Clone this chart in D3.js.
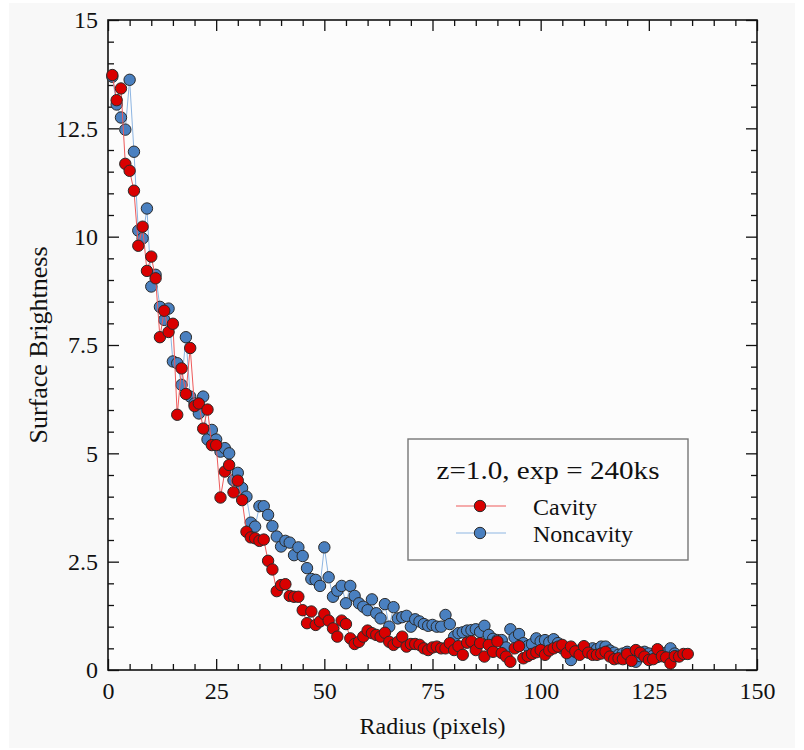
<!DOCTYPE html>
<html><head><meta charset="utf-8">
<script src="https://cdn.jsdelivr.net/npm/d3@7"></script>
<style>html,body{margin:0;padding:0;background:#ffffff;} svg{display:block;}</style>
</head><body>
<svg id="chart" width="804" height="750"></svg>
<script>
// ---- data ----
const xTicks = [0, 25, 50, 75, 100, 125, 150];
const xTickLabels = ["0", "25", "50", "75", "100", "125", "150"];
const yTicks = [0, 2.5, 5, 7.5, 10, 12.5, 15];
const yTickLabels = ["0", "2.5", "5", "7.5", "10", "12.5", "15"];
const radiusStart = 1; // first radius bin (pixels); bins are 1 pixel wide
const cavity = [
  13.73, 13.15, 13.42, 11.68, 11.52, 11.06, 9.79, 10.23, 9.21, 9.54,
  9.04, 7.68, 8.29, 7.80, 7.99, 5.89, 6.96, 6.37, 7.43, 6.09,
  6.15, 5.57, 6.01, 5.19, 5.19, 3.98, 4.58, 4.73, 4.10, 4.37,
  3.92, 3.19, 3.06, 3.04, 2.98, 3.01, 2.52, 2.32, 1.82, 1.96,
  1.98, 1.71, 1.69, 1.69, 1.38, 1.08, 1.35, 1.04, 1.12, 1.29,
  1.14, 0.96, 0.77, 1.14, 1.06, 0.73, 0.60, 0.65, 0.77, 0.91,
  0.85, 0.81, 0.77, 0.86, 0.65, 0.58, 0.65, 0.77, 0.54, 0.60,
  0.60, 0.58, 0.50, 0.46, 0.52, 0.54, 0.50, 0.50, 0.62, 0.46,
  0.55, 0.35, 0.63, 0.66, 0.46, 0.62, 0.31, 0.58, 0.42, 0.66,
  0.39, 0.31, 0.19, 0.50, 0.55, 0.27, 0.32, 0.37, 0.41, 0.46,
  0.35, 0.45, 0.50, 0.54, 0.58, 0.39, 0.54, 0.43, 0.35, 0.55,
  0.40, 0.35, 0.35, 0.38, 0.42, 0.31, 0.25, 0.27, 0.25, 0.37,
  0.21, 0.46, 0.40, 0.31, 0.23, 0.25, 0.48, 0.32, 0.29, 0.15,
  0.32, 0.31, 0.37, 0.37
];
const noncavity = [
  13.69, 13.05, 12.75, 12.47, 13.62, 11.96, 10.14, 9.96, 10.65, 8.85,
  9.12, 8.38, 8.08, 8.34, 7.12, 7.08, 6.58, 7.68, 6.31, 6.15,
  5.92, 6.31, 5.32, 5.54, 5.32, 5.04, 5.12, 5.00, 4.38, 4.55,
  4.20, 4.00, 3.40, 3.31, 3.78, 3.78, 3.58, 3.32, 3.08, 2.85,
  2.98, 2.94, 2.65, 2.83, 2.63, 2.35, 2.10, 2.08, 1.94, 2.83,
  2.14, 1.69, 1.83, 1.94, 1.54, 1.94, 1.71, 1.54, 1.46, 1.38,
  1.63, 1.31, 1.19, 1.52, 1.00, 1.45, 1.19, 1.22, 1.25, 1.00,
  1.17, 1.12, 1.06, 1.02, 1.04, 1.00, 1.00, 1.27, 1.06, 0.77,
  0.85, 0.87, 0.91, 0.92, 0.94, 0.88, 1.02, 0.81, 0.72, 0.69,
  0.69, 0.52, 0.94, 0.75, 0.83, 0.62, 0.55, 0.60, 0.73, 0.66,
  0.69, 0.64, 0.71, 0.62, 0.50, 0.45, 0.23, 0.42, 0.45, 0.50,
  0.46, 0.50, 0.48, 0.54, 0.54, 0.45, 0.40, 0.35, 0.38, 0.42,
  0.35, 0.19, 0.32, 0.42, 0.38, 0.33, 0.30, 0.35, 0.40, 0.50,
  0.38
];
const seriesNames = ["Cavity", "Noncavity"];
const legendTitle = "z=1.0, exp = 240ks";
const xTitle = "Radius (pixels)";
const yTitle = "Surface Brightness";

// ---- styles ----
const FONT = "'Liberation Serif', 'DejaVu Serif', serif";
const colors = {
  Cavity: { fill: "#d90000", line: "#ee5a5a" },
  Noncavity: { fill: "#4a80c0", line: "#8db5e2" }
};

const svg = d3.select("#chart");
const W = 804, H = 750;
const L = 108, R = 757, T = 20, B = 670;

svg.append("rect").attr("x", 0).attr("y", 0).attr("width", W).attr("height", H).attr("fill", "#ffffff");
svg.append("rect").attr("x", 9).attr("y", 3).attr("width", 786).attr("height", 745).attr("fill", "#f8f8f8");
svg.append("rect").attr("x", L).attr("y", T).attr("width", R - L).attr("height", B - T).attr("fill", "#fcfcfc");

const x = d3.scaleLinear().domain([0, 150]).range([L, R]);
const y = d3.scaleLinear().domain([0, 15]).range([B, T]);

const xMinor = d3.range(0, 151, 5).filter(v => v % 25 !== 0);
const yMinor = d3.range(0, 15.01, 0.5).filter(v => Math.abs(v / 2.5 - Math.round(v / 2.5)) > 1e-6);

function styleAxis(g) {
  g.select(".domain").remove();
  g.selectAll(".tick line").attr("stroke", "#111").attr("stroke-width", 1.3);
  g.selectAll(".tick text").attr("font-family", FONT).attr("font-size", 24).attr("fill", "#111");
}

// bottom
svg.append("g").attr("transform", `translate(0,${B})`)
  .call(d3.axisBottom(x).tickValues(xMinor).tickSize(-6).tickFormat("")).call(styleAxis);
svg.append("g").attr("transform", `translate(0,${B})`)
  .call(d3.axisBottom(x).tickValues(xTicks).tickSize(-11).tickPadding(12)
    .tickFormat((d, i) => xTickLabels[i])).call(styleAxis);
// top
svg.append("g").attr("transform", `translate(0,${T})`)
  .call(d3.axisTop(x).tickValues(xMinor).tickSize(-6).tickFormat("")).call(styleAxis);
svg.append("g").attr("transform", `translate(0,${T})`)
  .call(d3.axisTop(x).tickValues(xTicks).tickSize(-11).tickFormat("")).call(styleAxis);
// left
svg.append("g").attr("transform", `translate(${L},0)`)
  .call(d3.axisLeft(y).tickValues(yMinor).tickSize(-6).tickFormat("")).call(styleAxis);
svg.append("g").attr("transform", `translate(${L},0)`)
  .call(d3.axisLeft(y).tickValues(yTicks).tickSize(-11).tickPadding(10)
    .tickFormat((d, i) => yTickLabels[i])).call(styleAxis);
// right
svg.append("g").attr("transform", `translate(${R},0)`)
  .call(d3.axisRight(y).tickValues(yMinor).tickSize(-6).tickFormat("")).call(styleAxis);
svg.append("g").attr("transform", `translate(${R},0)`)
  .call(d3.axisRight(y).tickValues(yTicks).tickSize(-11).tickFormat("")).call(styleAxis);

// frame
svg.append("rect").attr("x", L).attr("y", T).attr("width", R - L).attr("height", B - T)
  .attr("fill", "none").attr("stroke", "#111").attr("stroke-width", 1.6);

// axis titles
svg.append("text").attr("x", (L + R) / 2).attr("y", 734).attr("text-anchor", "middle")
  .attr("font-family", FONT).attr("font-size", 24).attr("fill", "#111").text(xTitle);
svg.append("text").attr("transform", `translate(47,${(T + B) / 2}) rotate(-90)`).attr("text-anchor", "middle")
  .attr("font-family", FONT).attr("font-size", 26).attr("fill", "#111").text(yTitle);

// series
const line = d3.line().x((d, i) => x(radiusStart + i)).y(d => y(d));
function drawSeries(values, name) {
  const c = colors[name];
  const g = svg.append("g");
  g.append("path").datum(values).attr("d", line).attr("fill", "none")
    .attr("stroke", c.line).attr("stroke-width", 1);
  g.selectAll("circle").data(values).join("circle")
    .attr("cx", (d, i) => x(radiusStart + i)).attr("cy", d => y(d)).attr("r", 5.7)
    .attr("fill", c.fill).attr("stroke", "#2a2a2a").attr("stroke-width", 1);
}
drawSeries(noncavity, "Noncavity");
drawSeries(cavity, "Cavity");

// legend
const lg = svg.append("g");
lg.append("rect").attr("x", 408).attr("y", 439).attr("width", 280).attr("height", 121)
  .attr("fill", "#fcfcfc").attr("stroke", "#777").attr("stroke-width", 1.4);
lg.append("text").attr("x", 548).attr("y", 479).attr("text-anchor", "middle")
  .attr("font-family", FONT).attr("font-size", 26).attr("fill", "#111")
  .attr("textLength", 223).attr("lengthAdjust", "spacingAndGlyphs").text(legendTitle);
seriesNames.forEach((name, i) => {
  const yy = 506 + i * 27;
  const c = colors[name];
  lg.append("line").attr("x1", 456).attr("x2", 506).attr("y1", yy).attr("y2", yy)
    .attr("stroke", c.line).attr("stroke-width", 1.2);
  lg.append("circle").attr("cx", 480).attr("cy", yy).attr("r", 5.7)
    .attr("fill", c.fill).attr("stroke", "#2a2a2a").attr("stroke-width", 1);
  lg.append("text").attr("x", 533).attr("y", yy + 9).attr("font-family", FONT)
    .attr("font-size", 24).attr("fill", "#111").text(name);
});
</script>
</body></html>
